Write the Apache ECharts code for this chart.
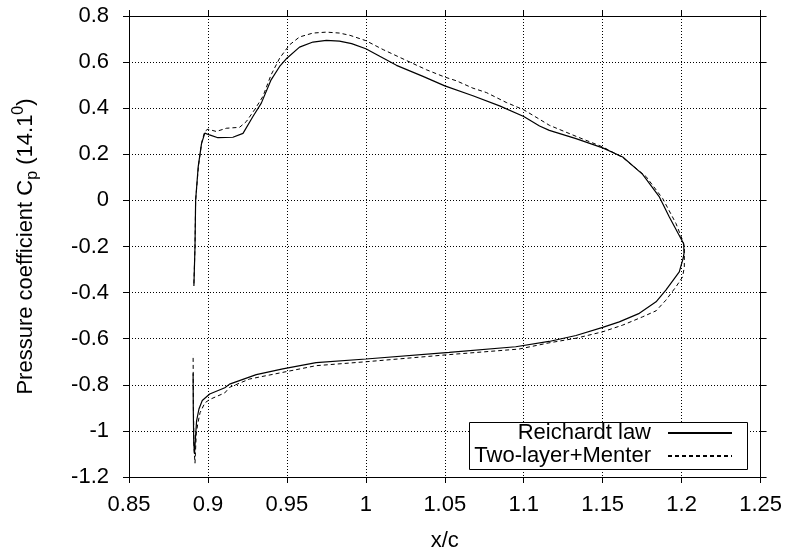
<!DOCTYPE html>
<html>
<head>
<meta charset="utf-8">
<script src="https://cdn.jsdelivr.net/npm/echarts@6/dist/echarts.min.js"></script>
<style>
html,body{margin:0;padding:0;background:#fff;}
#chart{width:785px;height:557px;}
</style>
</head>
<body>
<div id="chart"></div>
<script>
// ---- data ----
const seriesNames = ['Reichardt law', 'Two-layer+Menter'];

const reichardtX = [0.8911,0.8918,0.8922,0.8938,0.8959,0.8980,0.9010,0.9063,0.9158,0.9222,0.9285,0.9338,0.9400,0.9454,0.9500,0.9580,0.9665,0.9750,0.9833,0.9910,1.0000,1.0088,1.0194,1.0362,1.0500,1.0678,1.0847,1.1000,1.1100,1.1162,1.1331,1.1500,1.1627,1.1753,1.1859,1.1922,1.1996,1.2013,1.2015,1.2010,1.1985,1.1900,1.1838,1.1732,1.1605,1.1500,1.1331,1.1160,1.0949,1.0528,1.0001,0.9685,0.9474,0.9306,0.9137,0.9107,0.9011,0.8964,0.8943,0.8928,0.8921,0.8915,0.8910,0.8907,0.8906];
const reichardtY = [-0.371,-0.200,0.000,0.144,0.245,0.292,0.284,0.272,0.274,0.291,0.364,0.422,0.523,0.581,0.617,0.665,0.687,0.694,0.691,0.680,0.658,0.625,0.586,0.538,0.497,0.454,0.410,0.364,0.323,0.304,0.268,0.228,0.188,0.113,0.015,-0.072,-0.166,-0.188,-0.230,-0.250,-0.310,-0.389,-0.440,-0.490,-0.527,-0.551,-0.586,-0.612,-0.635,-0.659,-0.688,-0.704,-0.731,-0.756,-0.797,-0.813,-0.840,-0.868,-0.905,-0.957,-1.030,-1.100,-1.050,-0.900,-0.750];

const menterX = [0.8911,0.8918,0.8922,0.8940,0.8960,0.8980,0.9000,0.9053,0.9116,0.9200,0.9243,0.9295,0.9348,0.9400,0.9454,0.9517,0.9580,0.9665,0.9750,0.9833,0.9900,1.0000,1.0110,1.0257,1.0383,1.0500,1.0573,1.0678,1.0763,1.0889,1.1000,1.1100,1.1162,1.1331,1.1500,1.1627,1.1774,1.1880,1.1964,1.2006,1.2017,1.2017,1.2006,1.1964,1.1900,1.1838,1.1753,1.1627,1.1500,1.1331,1.1160,1.0970,1.0528,1.0001,0.9685,0.9474,0.9263,0.9137,0.9107,0.9013,0.8981,0.8950,0.8935,0.8926,0.8918,0.8912,0.8908,0.8906];
const menterY = [-0.360,-0.200,0.000,0.150,0.250,0.300,0.309,0.299,0.313,0.317,0.342,0.393,0.451,0.545,0.617,0.675,0.709,0.726,0.730,0.726,0.716,0.693,0.654,0.607,0.567,0.535,0.519,0.487,0.468,0.425,0.393,0.352,0.326,0.278,0.232,0.186,0.104,0.008,-0.100,-0.173,-0.202,-0.289,-0.332,-0.375,-0.433,-0.479,-0.505,-0.541,-0.570,-0.598,-0.618,-0.645,-0.669,-0.700,-0.717,-0.746,-0.775,-0.811,-0.835,-0.863,-0.878,-0.921,-0.971,-1.013,-1.140,-1.080,-0.900,-0.670];

const xTickValues = [0.85,0.9,0.95,1,1.05,1.1,1.15,1.2,1.25];
const yTickValues = [-1.2,-1,-0.8,-0.6,-0.4,-0.2,0,0.2,0.4,0.6,0.8];

// ---- chart ----
const FONT = 'Liberation Sans, Arial, sans-serif';
const FS = 22;
const pair = (xs, ys) => xs.map((x, i) => [x, ys[i]]);
const fmt = v => String(+(+v).toFixed(2));

const gridLine = {show: true, lineStyle: {color: '#000', type: [1, 2], width: 1}};
const axisLine = {show: true, onZero: false, lineStyle: {color: '#000', width: 1}};
const tick = {show: true, inside: false, length: 6, lineStyle: {color: '#000'}};
const legendBase = {
  orient: 'vertical', align: 'right', right: 52, padding: 0,
  itemWidth: 64, itemHeight: 14, z: 10,
  itemStyle: {opacity: 0},
  textStyle: {color: '#000', fontSize: FS, fontFamily: FONT, padding: [0, 12, 0, 0]}
};

const chart = echarts.init(document.getElementById('chart'), null, {renderer: 'canvas'});
chart.setOption({
  animation: false,
  backgroundColor: '#fff',
  textStyle: {fontFamily: FONT},
  grid: {left: 129, right: 23, top: 16, bottom: 80, containLabel: false},
  xAxis: [{
    type: 'value', min: xTickValues[0], max: xTickValues[xTickValues.length - 1], interval: 0.05,
    position: 'bottom',
    axisLine: axisLine, axisTick: tick, splitLine: gridLine,
    axisLabel: {color: '#000', fontSize: FS, fontFamily: FONT, margin: 17, formatter: fmt},
    name: 'x/c', nameLocation: 'middle', nameGap: 53,
    nameTextStyle: {color: '#000', fontSize: FS, fontFamily: FONT}
  }, {
    type: 'value', min: xTickValues[0], max: xTickValues[xTickValues.length - 1], interval: 0.05,
    position: 'top',
    axisLine: axisLine, axisTick: tick, splitLine: {show: false}, axisLabel: {show: false}
  }],
  yAxis: [{
    type: 'value', min: yTickValues[0], max: yTickValues[yTickValues.length - 1], interval: 0.2,
    position: 'left',
    axisLine: axisLine, axisTick: tick, splitLine: gridLine,
    axisLabel: {color: '#000', fontSize: FS, fontFamily: FONT, margin: 20, formatter: fmt},
    name: '{a|Pressure coefficient C}{sub|p}{a| (14.1}{sup|0}{a|)}',
    nameLocation: 'middle', nameGap: 88, nameRotate: 90,
    nameTextStyle: {
      color: '#000', fontSize: FS, fontFamily: FONT,
      rich: {
        a: {fontSize: FS, fontFamily: FONT, color: '#000', verticalAlign: 'middle'},
        sub: {fontSize: 16, fontFamily: FONT, color: '#000', verticalAlign: 'middle', padding: [14, 0, 0, 0]},
        sup: {fontSize: 16, fontFamily: FONT, color: '#000', verticalAlign: 'middle', padding: [0, 0, 14, 0]}
      }
    }
  }, {
    type: 'value', min: yTickValues[0], max: yTickValues[yTickValues.length - 1], interval: 0.2,
    position: 'right',
    axisLine: axisLine, axisTick: tick, splitLine: {show: false}, axisLabel: {show: false}
  }],
  legend: [
    Object.assign({}, legendBase, {data: [seriesNames[0]], top: 422}),
    Object.assign({}, legendBase, {data: [seriesNames[1]], top: 445})
  ],
  graphic: [{
    type: 'rect', z: 9, left: 469, top: 422,
    shape: {width: 278, height: 47},
    style: {fill: '#fff', stroke: '#000', lineWidth: 1}
  }],
  series: [{
    name: seriesNames[0], type: 'line', xAxisIndex: 0, yAxisIndex: 0,
    data: pair(reichardtX, reichardtY), showSymbol: false, symbol: 'none', smooth: false,
    lineStyle: {color: '#000', width: 1.2, type: 'solid'}, itemStyle: {color: '#000'}, z: 3
  }, {
    name: seriesNames[1], type: 'line', xAxisIndex: 0, yAxisIndex: 0,
    data: pair(menterX, menterY), showSymbol: false, symbol: 'none', smooth: false,
    lineStyle: {color: '#000', width: 1, type: [4, 3]}, itemStyle: {color: '#000'}, z: 3
  }]
});
</script>
</body>
</html>
